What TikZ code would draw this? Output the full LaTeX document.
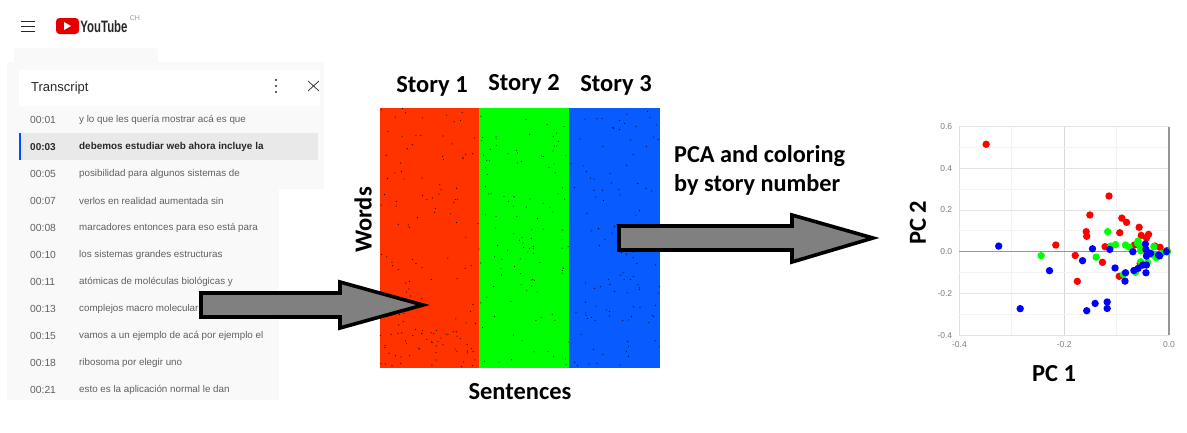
\documentclass[tikz,border=0pt]{standalone}
\usepackage{fontspec}
\setmainfont{Carlito}
\newfontfamily\uifont{Liberation Sans}
\usepackage{xcolor}
\usetikzlibrary{calc, positioning}
\definecolor{storyA}{RGB}{255, 51, 0}
\definecolor{storyB}{RGB}{0, 255, 0}
\definecolor{storyC}{RGB}{8, 92, 255}
\definecolor{panelBg}{RGB}{249, 249, 249}
\definecolor{rowBg}{RGB}{233, 233, 233}
\definecolor{uiText}{RGB}{96, 96, 96}
\definecolor{uiDark}{RGB}{40, 40, 40}
\definecolor{gridLine}{RGB}{243, 243, 243}
\definecolor{axisLine}{RGB}{150, 150, 150}
\definecolor{tickText}{RGB}{125, 125, 125}

\begin{document}
\begin{tikzpicture}[x=1pt, y=-1pt,
  timelabel/.style={font=\uifont\fontsize{10.3}{12}\selectfont, text=uiText, anchor=west, inner sep=0pt},
  rowlabel/.style={font=\uifont\fontsize{9.8}{12}\selectfont, text=uiText, anchor=west, inner sep=0pt},
  storylabel/.style={font=\bfseries\fontsize{24.5}{27}\selectfont, inner sep=0pt},
  ticklabel/.style={font=\uifont\fontsize{8.5}{10}\selectfont, text=tickText, inner sep=0pt},
  blockarrow/.style={fill=black!50, draw=black, line width=3.6pt, line join=miter},
  speck/.style={fill=black, opacity=0.85},
  dot/.style={fill=#1}]
  \useasboundingbox (0,0) rectangle (1187,432);

  % Page header
  \foreach \ypos in {21,26,31} {
    \draw[uiDark, line width=1pt] (21,\ypos) -- (35,\ypos);
  }
  \fill[red!90!black, rounded corners=3.5pt] (56,18) rectangle (79,34);
  \fill[white] (64,22) -- (71,26) -- (64,30) -- cycle;
  \node[font=\uifont\bfseries\fontsize{16.5}{18}\selectfont, text=uiDark, xscale=0.69, inner sep=0pt] (logo) at (104,26.5) {YouTube};
  \node[font=\uifont\fontsize{7}{8}\selectfont, text=black!40, inner sep=0pt] (region) at (135,18.5) {CH};

  % Transcript panel
  \fill[panelBg] (14,48) rectangle (158,70);
  \fill[panelBg] (7,62) rectangle (324,189);
  \fill[panelBg] (7,189) rectangle (279,400);
  \fill[white] (19,70) rectangle (320,106);
  \fill[rowBg] (19,133) rectangle (318,160);
  \fill[blue!70!cyan] (19,133) rectangle (21,160);
  \node[font=\uifont\fontsize{13}{16}\selectfont, text=uiDark, anchor=west, inner sep=0pt] (title) at (31,88) {Transcript};
  \foreach \ypos in {80,86,92} {
    \fill[uiDark] (276,\ypos) circle[radius=1.1pt];
  }
  \draw[uiDark, line width=0.7pt] (308,81) -- (319,91) (319,81) -- (308,91);

  \foreach \i/\tm/\txt in {0/00:01/y lo que les quería mostrar acá es que,
      2/00:05/posibilidad para algunos sistemas de,
      3/00:07/verlos en realidad aumentada sin,
      4/00:08/marcadores entonces para eso está para,
      5/00:10/los sistemas grandes estructuras,
      6/00:11/atómicas de moléculas biológicas y,
      7/00:13/complejos macro molecular,
      8/00:15/vamos a un ejemplo de acá por ejemplo el,
      9/00:18/ribosoma por elegir uno,
      10/00:21/esto es la aplicación normal le dan} {
    \node[timelabel] (time\i) at (30,{120+27*\i}) {\tm};
    \node[rowlabel] (row\i) at (79,{120+27*\i}) {\txt};
  }
  \node[timelabel, text=uiDark, font=\uifont\bfseries\fontsize{10}{12}\selectfont] (time1) at (30,147) {00:03};
  \node[rowlabel, text=uiDark, font=\uifont\bfseries\fontsize{9.9}{12}\selectfont] (row1) at (79,147) {debemos estudiar web ahora incluye la};

  % Word by sentence matrix
  \fill[storyA] (380,108) rectangle (479,368);
  \fill[storyB] (479,108) rectangle (569,368);
  \fill[storyC] (569,108) rectangle (660,368);
  \pgfmathsetseed{1234}
  \foreach \i in {1,...,330} {
    \fill[speck] ({380+280*rnd},{108+260*rnd}) circle[radius=0.6pt];
  }
  \foreach \i in {1,...,35} {
    \fill[speck] ({381+98*rnd},{325+42*rnd}) circle[radius=0.6pt];
  }

  \node[storylabel] (story1) at (432,86) {Story 1};
  \node[storylabel] (story2) at (524,84) {Story 2};
  \node[storylabel] (story3) at (616,85) {Story 3};
  \node[storylabel, rotate=90] (words) at (363,220) {Words};
  \node[storylabel] (sentences) at (520,392) {Sentences};
  \node[storylabel, align=left, anchor=west, font=\bfseries\fontsize{24.3}{29}\selectfont] (pca) at (674,170.5) {PCA and coloring\\by story number};

  % Big arrows
  \draw[blockarrow] (201,293) -- (340,293) -- (340,282) -- (423,305) -- (340,328) -- (340,317) -- (201,317) -- cycle;
  \draw[blockarrow] (619,226) -- (792,226) -- (792,215) -- (873,238) -- (792,262) -- (792,250) -- (619,250) -- cycle;

  % PCA scatter plot
  \begin{scope}[shift={(1169,251.7)}, x=524pt, y=208.6pt]
    \foreach \gx in {-0.4,-0.3,-0.2,-0.1} {
      \draw[gridLine, line width=0.8pt] (\gx,-0.4) -- (\gx,0.6);
    }
    \draw[black!15, line width=0.9pt] (-0.2,-0.4) -- (-0.2,0.6);
    \draw[black!12, line width=0.9pt] (-0.4,-0.4) -- (-0.4,0.6);
    \foreach \gy in {-0.3,-0.1,0.1,0.3,0.5} {
      \draw[gridLine, line width=0.8pt] (-0.4,\gy) -- (0,\gy);
    }
    \foreach \gy in {-0.4,-0.2,0.2,0.4,0.6} {
      \draw[black!11, line width=0.9pt] (-0.4,\gy) -- (0,\gy);
      \node[ticklabel, anchor=east] (ytick\gy) at ([xshift=-7pt]-0.4,\gy) {\gy};
    }
    \node[ticklabel, anchor=east] (ytick0) at ([xshift=-7pt]-0.4,0) {0.0};
    \draw[axisLine, line width=1.1pt] (-0.4,0) -- (0,0);
    \draw[axisLine, line width=1.1pt] (0,-0.4) -- (0,0.6);
    \node[ticklabel] (xtickA) at ([yshift=-9.7pt]-0.4,-0.4) {-0.4};
    \node[ticklabel] (xtickB) at ([yshift=-9.7pt]-0.2,-0.4) {-0.2};
    \node[ticklabel] (xtickC) at ([yshift=-9.7pt]0,-0.4) {0.0};

    % Story 1 points
    \foreach \px/\py in {-0.349/0.515, -0.1145/0.267, -0.151/0.176, -0.09/0.161, -0.081/0.141,
        -0.057/0.117, -0.158/0.096, -0.157/0.074, -0.094/0.091, -0.053/0.078, -0.039/0.083,
        -0.043/0.066, -0.216/0.032, -0.122/0.024, -0.066/0.032, -0.179/-0.018, -0.127/-0.051,
        -0.175/-0.142, -0.095/-0.118, -0.027/0.027, -0.017/0.021, -0.004/0.005, -0.055/-0.056,
        -0.043/0} {
      \fill[dot=red] (\px,\py) circle[radius=3.7pt];
    }
    % Story 2 points
    \foreach \px/\py in {-0.117/0.096, -0.244/-0.019, -0.139/-0.026, -0.111/0.027, -0.102/0.034,
        -0.083/0.032, -0.076/0.022, -0.059/0.051, -0.06/0.04, -0.055/0.024, -0.054/0.005,
        -0.029/0.024, -0.024/-0.029, -0.014/-0.008, -0.003/0, -0.054/-0.048, -0.041/-0.051,
        -0.064/-0.099, -0.087/-0.109, -0.03/-0.016} {
      \fill[dot=storyB] (\px,\py) circle[radius=3.7pt];
    }
    % Story 3 points
    \foreach \px/\py in {-0.325/0.027, -0.284/-0.273, -0.228/-0.091, -0.165/-0.043, -0.146/0.014,
        -0.113/0.011, -0.103/-0.078, -0.083/-0.101, -0.084/-0.141, -0.069/0, -0.157/-0.283,
        -0.141/-0.248, -0.118/-0.241, -0.118/-0.272, -0.045/0.037, -0.044/0.011, -0.043/-0.021,
        -0.035/-0.008, -0.02/-0.016, -0.018/-0.02, -0.005/0, -0.044/-0.101, -0.043/-0.064,
        -0.05/-0.064, -0.059/-0.08, -0.067/-0.09} {
      \fill[dot=blue] (\px,\py) circle[radius=3.7pt];
    }
  \end{scope}
  \node[storylabel] (pcx) at (1054,374) {PC 1};
  \node[storylabel, rotate=90] (pcy) at (918,223) {PC 2};
\end{tikzpicture}
\end{document}
